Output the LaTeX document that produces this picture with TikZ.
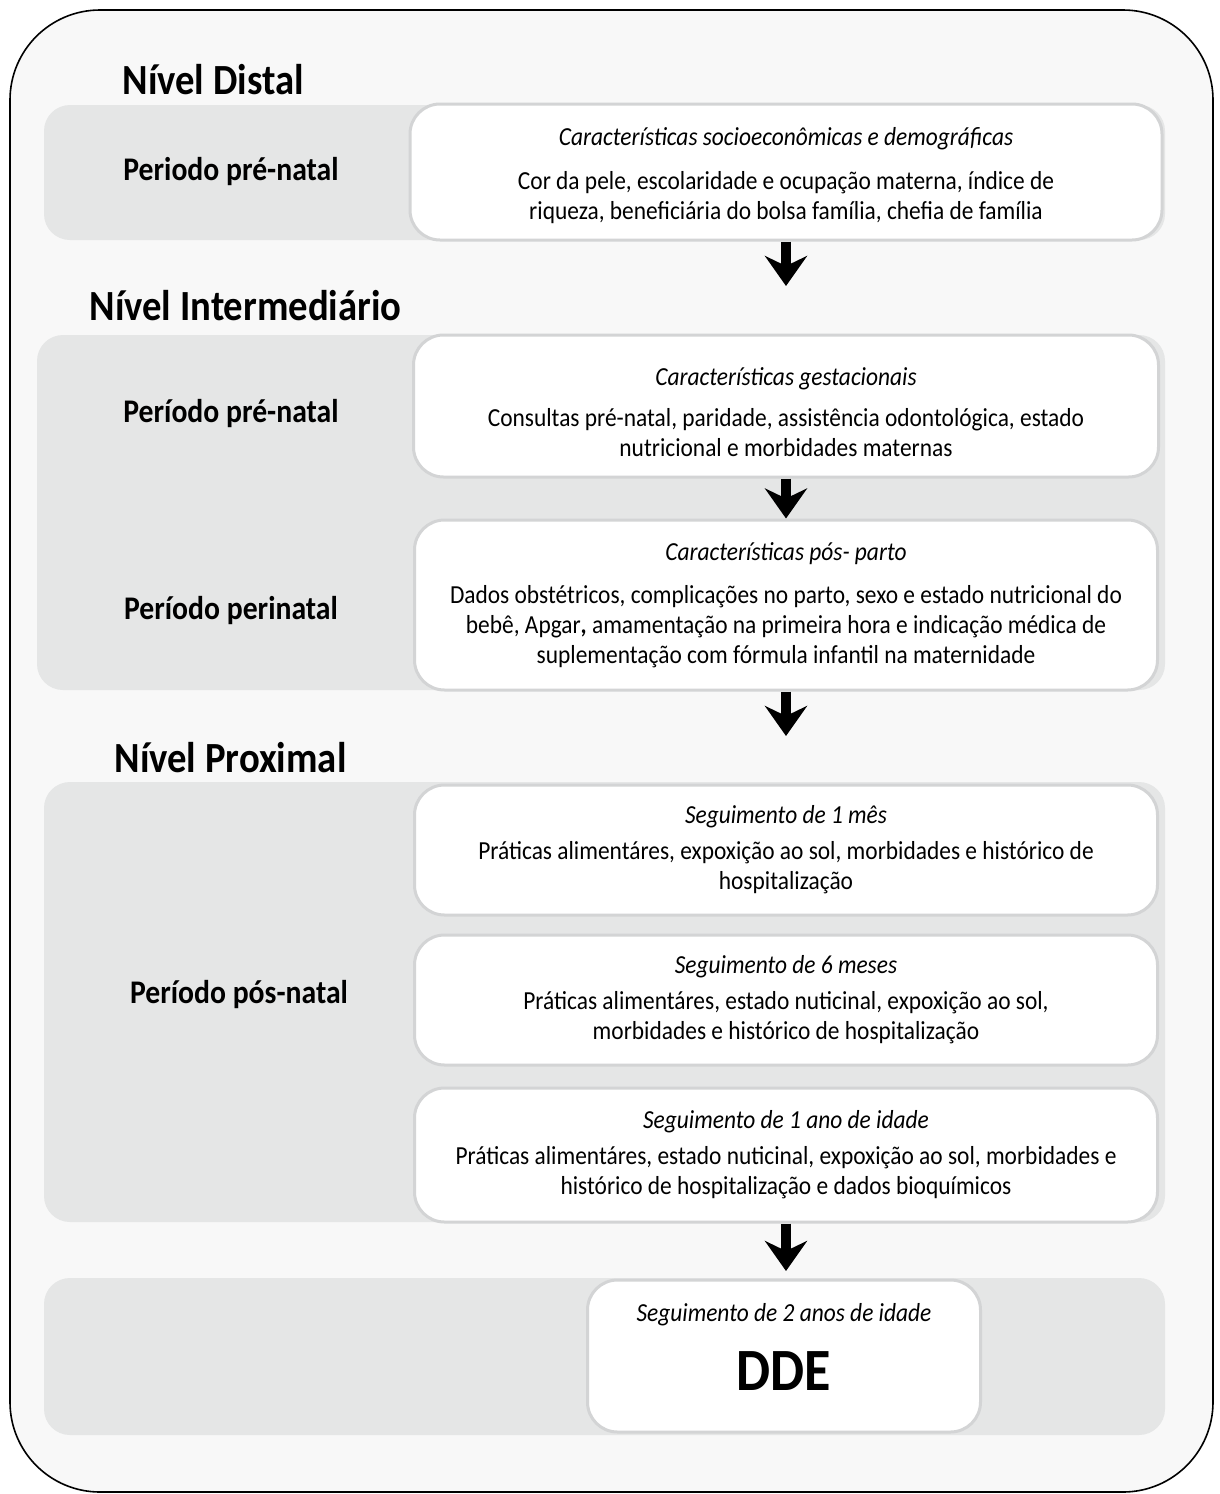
\documentclass[tikz,border=0pt]{standalone}
\usepackage{fontspec}
\setmainfont[FakeStretch=0.9]{Carlito}
\usetikzlibrary{arrows.meta}

\definecolor{fundo}{HTML}{F8F8F8}
\definecolor{faixa}{HTML}{E5E6E6}
\definecolor{borda}{HTML}{D3D4D5}

\newcommand{\corpo}{\fontsize{26}{30}\selectfont}
\newcommand{\topo}[1]{\rule{0pt}{#1}}
\newcommand{\fundo}[1]{\rule[-#1]{0pt}{#1}}

\tikzset{
    moldura/.style={draw=black, line width=1.6pt, fill=fundo, rounded corners=90pt},
    faixacinza/.style={fill=faixa, rounded corners=26pt},
    caixa/.style={draw=borda, line width=3pt, fill=white, rounded corners=30pt,
        align=center, inner sep=0pt, font=\corpo},
    nivel/.style={anchor=west, font=\fontsize{43}{46}\selectfont\bfseries},
    periodo/.style={font=\fontsize{33}{36}\selectfont\bfseries},
    seta/.style={line width=10pt, -{Stealth[length=30pt, width=42pt, inset=10pt]}}
}

\begin{document}
\begin{tikzpicture}[x=1pt, y=-1pt]
    \useasboundingbox (0,0) rectangle (1219,1494);

    % Moldura externa
    \draw[moldura] (10,10) rectangle (1213,1492);

    % Faixas cinzas
    \fill[faixacinza] (44,105) rectangle (1165,240);
    \fill[faixacinza] (37,335) rectangle (1165,690);
    \fill[faixacinza] (44,782) rectangle (1165,1222);
    \fill[faixacinza] (44,1278) rectangle (1165,1435);

    % Niveis
    \node[nivel] (distal) at (119,80) {Nível Distal};
    \node[nivel] (interm) at (86,306) {Nível Intermediário};
    \node[nivel] (proxim) at (111,758) {Nível Proximal};

    % Periodos
    \node[periodo] (p1) at (231,172) {Periodo pré-natal};
    \node[periodo] (p2) at (231,414) {Período pré-natal};
    \node[periodo] (p3) at (231,611) {Período perinatal};
    \node[periodo] (p4) at (239,995) {Período pós-natal};

    % Caixas
    \node[caixa, minimum width=752pt, minimum height=136pt] (socio) at (786,172)
        {\topo{25pt}\textit{Características socioeconômicas e demográficas}\\[14pt]
         Cor da pele, escolaridade e ocupação materna, índice de\\
         riqueza, beneficiária do bolsa família, chefia de família};
    \node[caixa, minimum width=745pt, minimum height=142pt] (gest) at (786,406)
        {\topo{30pt}\textit{Características gestacionais}\\[11pt]
         Consultas pré-natal, paridade, assistência odontológica, estado\\
         nutricional e morbidades maternas};
    \node[caixa, minimum width=743pt, minimum height=170pt] (parto) at (786,605)
        {\textit{Características pós- parto}\\[13pt]
         Dados obstétricos, complicações no parto, sexo e estado nutricional do\\
         bebê, Apgar\textbf{,} amamentação na primeira hora e indicação médica de\\
         suplementação com fórmula infantil na maternidade};
    \node[caixa, minimum width=743pt, minimum height=130pt] (mes1) at (786,850)
        {\textit{Seguimento de 1 mês}\\[6pt]
         Práticas alimentáres, expoxição ao sol, morbidades e histórico de\\
         hospitalização};
    \node[caixa, minimum width=743pt, minimum height=130pt] (mes6) at (786,1000)
        {\textit{Seguimento de 6 meses}\\[6pt]
         Práticas alimentáres, estado nuticinal, expoxição ao sol,\\
         morbidades e histórico de hospitalização};
    \node[caixa, minimum width=743pt, minimum height=134pt] (ano1) at (786,1155)
        {\textit{Seguimento de 1 ano de idade}\\[6pt]
         Práticas alimentáres, estado nuticinal, expoxição ao sol, morbidades e\\
         histórico de hospitalização e dados bioquímicos};
    \node[caixa, minimum width=393pt, minimum height=152pt] (ano2) at (784,1356)
        {\textit{Seguimento de 2 anos de idade}\\[24pt]
         {\fontsize{60}{62}\selectfont\bfseries DDE}\fundo{18pt}};

    % Setas
    \coordinate (fim1) at (786,286);
    \coordinate (fim3) at (786,736);
    \coordinate (fim4) at (786,1271);
    \draw[seta] (socio) -- (fim1);
    \draw[seta] (gest) -- (parto);
    \draw[seta] (parto) -- (fim3);
    \draw[seta] (ano1) -- (fim4);
\end{tikzpicture}
\end{document}
